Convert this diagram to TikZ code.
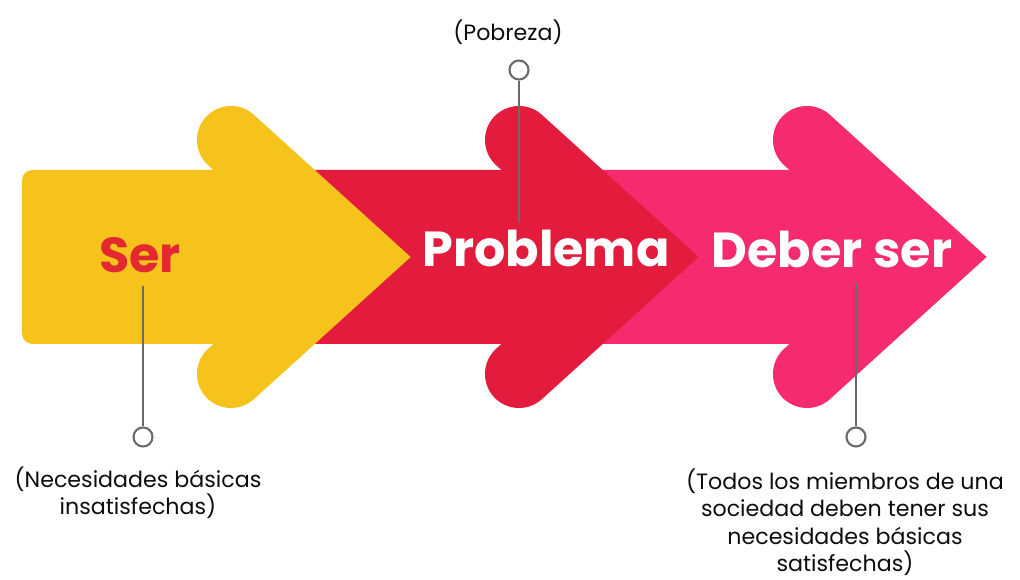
\documentclass[tikz,border=0pt]{standalone}
\usepackage{fontspec}
\setmainfont{Poppins}
\usepackage{xcolor}
\usepackage{tikz}

\definecolor{serYellow}{HTML}{F5C31C}
\definecolor{problemRed}{HTML}{E31C3D}
\definecolor{deberPink}{HTML}{F62A6E}
\definecolor{serText}{HTML}{E4282F}
\definecolor{pinLine}{HTML}{6A6A6A}

\tikzset{
    shaft/.style={rounded corners=3pt},
    head/.style={line width=0.68cm, line cap=round, line join=miter},
    pin/.style={circle, draw=pinLine, fill=white, line width=0.6pt, inner sep=0pt, minimum size=0.19cm},
    stem/.style={draw=pinLine, line width=0.6pt},
    title/.style={font=\bfseries\fontsize{14}{17}\selectfont, anchor=base},
    note/.style={font=\fontsize{6.3}{7.8}\selectfont, align=center, text=black!95, inner sep=0pt}
}

\begin{document}
\begin{tikzpicture}[x=0.01cm, y=-0.01cm]
    \useasboundingbox (0,0) rectangle (1020,580);

    % pink arrow (bottom layer)
    \fill[deberPink, shaft](590, 170) rectangle (888, 344);
    \draw[deberPink, head](807, 140) -- (936, 257) -- (807, 374);

    % red arrow
    \fill[problemRed, shaft](200, 170) rectangle (598, 344);
    \draw[problemRed, head](519, 140) -- (648, 257) -- (519, 374);

    % yellow arrow (top layer)
    \fill[serYellow, shaft](22, 170) rectangle (310, 344);
    \draw[serYellow, head](231, 140) -- (360, 257) -- (231, 374);

    \node[title, text=serText](ser) at (140, 273){Ser};
    \node[title, text=white](problema) at (546, 267){Problema};
    \node[title, text=white](deber) at (832, 268){Deber ser};

    \coordinate (serStem) at (143, 286);
    \coordinate (problemaStem) at (519, 222);
    \coordinate (deberStem) at (856, 283);

    \node[pin](serPin) at (143, 437){};
    \node[pin](problemaPin) at (519, 70){};
    \node[pin](deberPin) at (856, 437){};

    \draw[stem](serStem) -- (serPin);
    \draw[stem](problemaStem) -- (problemaPin);
    \draw[stem](deberStem) -- (deberPin);

    \node[note](problemaNote) at (508, 32){(Pobreza)};
    \node[note, anchor=north](serNote) at (138, 466){(Necesidades básicas\\insatisfechas)};
    \node[note, anchor=north](deberNote) at (845, 468){(Todos los miembros de una\\sociedad deben tener sus\\necesidades básicas\\satisfechas)};
\end{tikzpicture}
\end{document}
